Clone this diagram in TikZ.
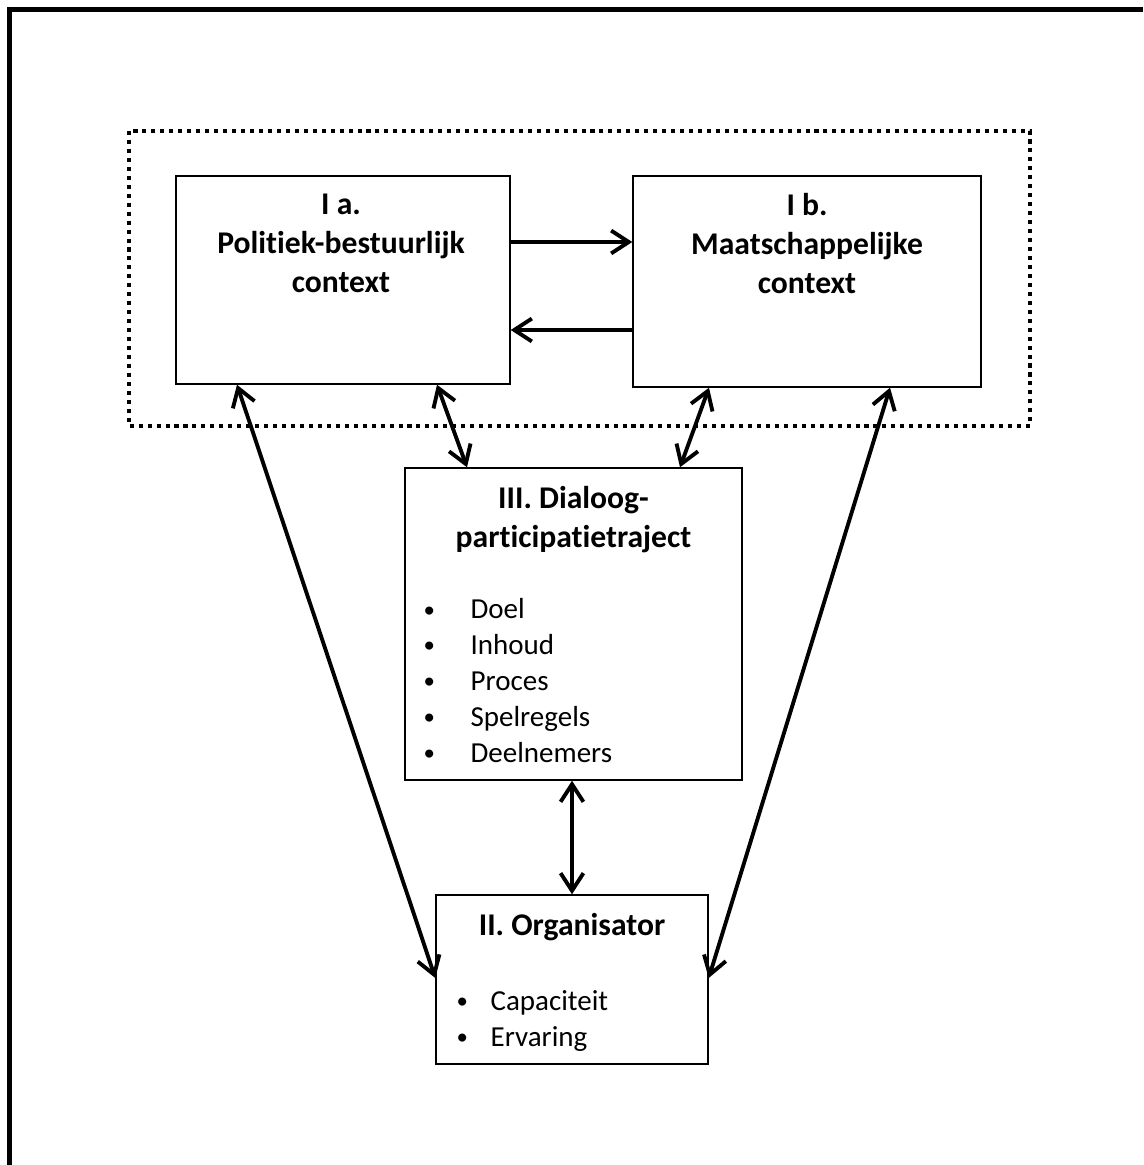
\documentclass[tikz,border=0pt]{standalone}
\usepackage{fontspec}
\setmainfont{Carlito}[Ligatures=NoCommon]
\usetikzlibrary{arrows.meta,positioning,calc}

\newcommand*{\bul}[2][0.94cm]{\makebox[#1][l]{\fontsize{13}{13}\selectfont\raisebox{1pt}{\textbullet}}#2}

\tikzset{
  box/.style={draw,line width=0.85pt,inner sep=0pt},
  heading/.style={font=\bfseries\fontsize{18}{22.2}\selectfont,align=center,inner sep=0pt},
  items/.style={font=\fontsize{16.5}{20.4}\selectfont,align=left,anchor=north west,inner sep=0pt},
  link/.style={line width=2.2pt,{Straight Barb[length=10pt,width=13pt]}-{Straight Barb[length=10pt,width=13pt]}},
  oneway/.style={line width=2.2pt,-{Straight Barb[length=10pt,width=13pt]}},
}

\begin{document}
\begin{tikzpicture}[x=0.02cm,y=-0.02cm]
	\useasboundingbox (0,0) rectangle (1143,1165);

	% outer frame
	\draw[line width=2.3pt] (9.5,1165) -- (9.5,9.5) -- (1143,9.5);

	% context boundary
	\draw[line width=2.2pt,dash pattern=on 2.3pt off 2.8pt] (129,131) rectangle (1030,426);

	% boxes
	\node[box,minimum width=6.68cm,minimum height=4.16cm] (Ia) at (343,280) {};
	\node[box,minimum width=6.96cm,minimum height=4.22cm] (Ib) at (807,281.5) {};
	\node[box,minimum width=6.74cm,minimum height=6.24cm] (III) at (573.5,624) {};
	\node[box,minimum width=5.44cm,minimum height=3.38cm] (II) at (572,979.5) {};

	% texts
	\node[heading,below=0.36cm of Ia.north,xshift=-0.04cm] (IaText) {I a.\\Politiek-bestuurlijk\\context};
	\node[heading,below=0.36cm of Ib.north] (IbText) {I b.\\Maatschappelijke\\context};
	\node[heading,below=0.37cm of III.north] (IIIText) {III. Dialoog-\\participatietraject};
	\node[heading,below=0.37cm of II.north] (IIText) {II. Organisator};
	\node[items] (IIIList) at ($(III.north west)+(19,131)$)
		{\bul{Doel}\\\bul{Inhoud}\\\bul{Proces}\\\bul{Spelregels}\\\bul{Deelnemers}};
	\node[items] (IIList) at ($(II.north west)+(21,96)$)
		{\bul[0.68cm]{Capaciteit}\\\bul[0.68cm]{Ervaring}};

	% connectors
	\draw[oneway] (Ia.east |- 0,242) -- (Ib.west |- 0,242);
	\draw[oneway] (Ib.west |- 0,330) -- (Ia.east |- 0,330);
	\draw[link] (Ia.south -| 437,0) -- (III.north -| 467,0);
	\draw[link] (Ib.south -| 709,0) -- (III.north -| 680,0);
	\draw[link] (III.south -| II.north) -- (II.north);
	\draw[link] (Ia.south -| 237,0) -- (II.west |- 0,978);
	\draw[link] (Ib.south -| 890,0) -- (II.east |- 0,978);

\end{tikzpicture}
\end{document}
